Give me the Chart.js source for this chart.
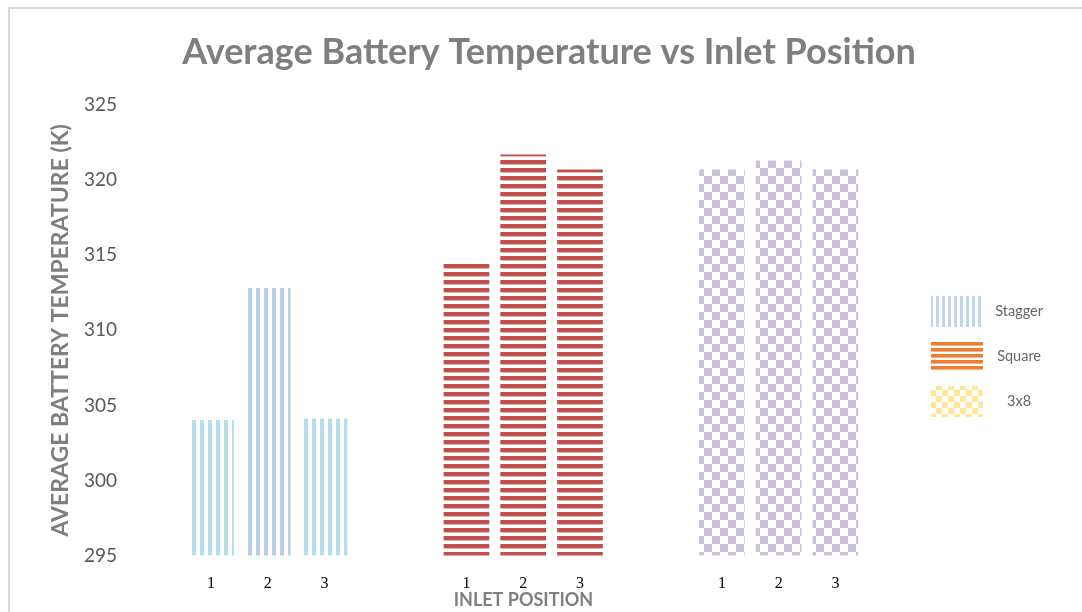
<!DOCTYPE html>
<html>
<head>
<meta charset="utf-8">
<script src="https://cdn.jsdelivr.net/npm/chart.js@4/dist/chart.umd.min.js"></script>
<style>
  html, body { margin: 0; padding: 0; background: #ffffff; }
  #wrap { position: relative; width: 1082px; height: 612px; }
</style>
</head>
<body>
<div id="wrap"><canvas id="chart" width="1082" height="612"></canvas></div>
<script>
// Average battery temperature (K) for each pack layout at inlet positions 1-3
const configurations = ['Stagger', 'Square', '3x8'];
const inletPositions = ['1', '2', '3'];
const staggerTemps = [304.0, 312.8, 304.1];
const squareTemps  = [314.6, 321.7, 320.7];
const grid3x8Temps = [320.7, 321.3, 320.7];
const seriesTemps = [staggerTemps, squareTemps, grid3x8Temps];

// spacing between the three layout clusters on the x scale (in bar slots)
const clusterStep = 4.5;

function tile(w, h, paint) {
  const c = document.createElement('canvas');
  c.width = w; c.height = h;
  const g = c.getContext('2d');
  g.fillStyle = '#ffffff';
  g.fillRect(0, 0, w, h);
  paint(g);
  return g.createPattern(c, 'repeat');
}
function vStripes(color, period, band) {
  return tile(period, 4, g => { g.fillStyle = color; g.fillRect(0, 0, band, 4); });
}
function hStripes(color, edge, period, band) {
  return tile(4, period, g => {
    g.fillStyle = color; g.fillRect(0, 0, 4, band);
    g.fillStyle = edge; g.fillRect(0, band, 4, 1);
  });
}
function checker(color, cell) {
  return tile(cell * 2, cell * 2, g => {
    g.fillStyle = color;
    g.fillRect(0, 0, cell, cell);
    g.fillRect(cell, cell, cell, cell);
  });
}

// bar fills
const staggerTeal = vStripes('#b7dee8', 8, 4);
const staggerBlue = vStripes('#b9cde5', 8, 4);
const squareRed = hStripes('#c0504d', '#e6b9b8', 8, 4);
const checkPurple = checker('#ccc1da', 8);
const barFills = [[staggerTeal, staggerBlue, staggerTeal], squareRed, checkPurple];

// legend swatches
const legendFills = [
  vStripes('#bdd7ee', 6, 3),
  hStripes('#ed7d31', '#f4b183', 6, 3),
  checker('#ffe699', 6)
];

const xTickValues = [];
const xTickLabels = [];
configurations.forEach((_, gi) => inletPositions.forEach((p, pi) => {
  xTickValues.push(gi * clusterStep + pi);
  xTickLabels.push(p);
}));

const frame = {
  id: 'frame',
  beforeDraw(chart) {
    const ctx = chart.ctx;
    ctx.save();
    ctx.fillStyle = '#ffffff';
    ctx.fillRect(0, 0, chart.width, chart.height);
    ctx.strokeStyle = '#d9d9d9';
    ctx.lineWidth = 2;
    ctx.beginPath();
    ctx.moveTo(9, chart.height + 2);
    ctx.lineTo(9, 8);
    ctx.lineTo(chart.width + 2, 8);
    ctx.stroke();
    ctx.restore();
  }
};

new Chart(document.getElementById('chart'), {
  type: 'bar',
  data: {
    datasets: configurations.map((name, gi) => ({
      label: name,
      data: seriesTemps[gi].map((t, pi) => ({ x: gi * clusterStep + pi, y: t })),
      backgroundColor: barFills[gi],
      borderWidth: 0,
      barThickness: 45,
      grouped: false
    }))
  },
  options: {
    responsive: false,
    animation: false,
    devicePixelRatio: 1,
    layout: { padding: { left: 50, right: 34, top: 0, bottom: 0 } },
    plugins: {
      title: {
        display: true,
        text: 'Average Battery Temperature vs Inlet Position',
        color: '#7f7f7f',
        font: { family: 'Lato', size: 36, weight: 'bold', lineHeight: 1.2 },
        padding: { top: 31, bottom: 31 }
      },
      legend: {
        position: 'right',
        title: { display: true, text: '', font: { size: 10, lineHeight: 1.2 }, padding: { top: 0, bottom: 89 } },
        labels: {
          boxWidth: 52,
          boxHeight: 31,
          padding: 14,
          color: '#1a1a1a',
          textAlign: 'center',
          font: { family: 'Lato', size: 14.5 },
          generateLabels: () => configurations.map((name, i) => ({
            text: name,
            fillStyle: legendFills[i],
            strokeStyle: 'rgba(0,0,0,0)',
            lineWidth: 0,
            hidden: false,
            datasetIndex: i
          }))
        }
      },
      tooltip: { enabled: false }
    },
    scales: {
      x: {
        type: 'linear',
        min: -1.427,
        max: 12.436,
        offset: false,
        grid: { display: false, drawTicks: false },
        border: { display: false },
        afterBuildTicks: s => { s.ticks = xTickValues.map(v => ({ value: v })); },
        afterFit: s => { s.height = 56.5; },
        ticks: {
          autoSkip: false,
          maxRotation: 0,
          padding: 19,
          color: '#000000',
          font: { family: 'Liberation Serif', size: 16 },
          callback: (v, i) => xTickLabels[i]
        },
        title: {
          display: true,
          text: 'INLET POSITION',
          color: '#7f7f7f',
          font: { family: 'Lato', size: 18, weight: 'bold' },
          padding: { top: 0, bottom: 1 }
        }
      },
      y: {
        min: 295,
        max: 325,
        beginAtZero: false,
        grid: { display: false, drawTicks: false },
        border: { display: false },
        afterFit: s => { s.width = 80; },
        ticks: {
          stepSize: 5,
          padding: 13,
          color: '#595959',
          font: { family: 'Lato', size: 19 }
        },
        title: {
          display: true,
          text: 'AVERAGE BATTERY TEMPERATURE (K)',
          color: '#7f7f7f',
          font: { family: 'Lato', size: 23, weight: 'bold', lineHeight: 1 },
          padding: { top: -1, bottom: 0 }
        }
      }
    }
  },
  plugins: [frame]
});
</script>
</body>
</html>
